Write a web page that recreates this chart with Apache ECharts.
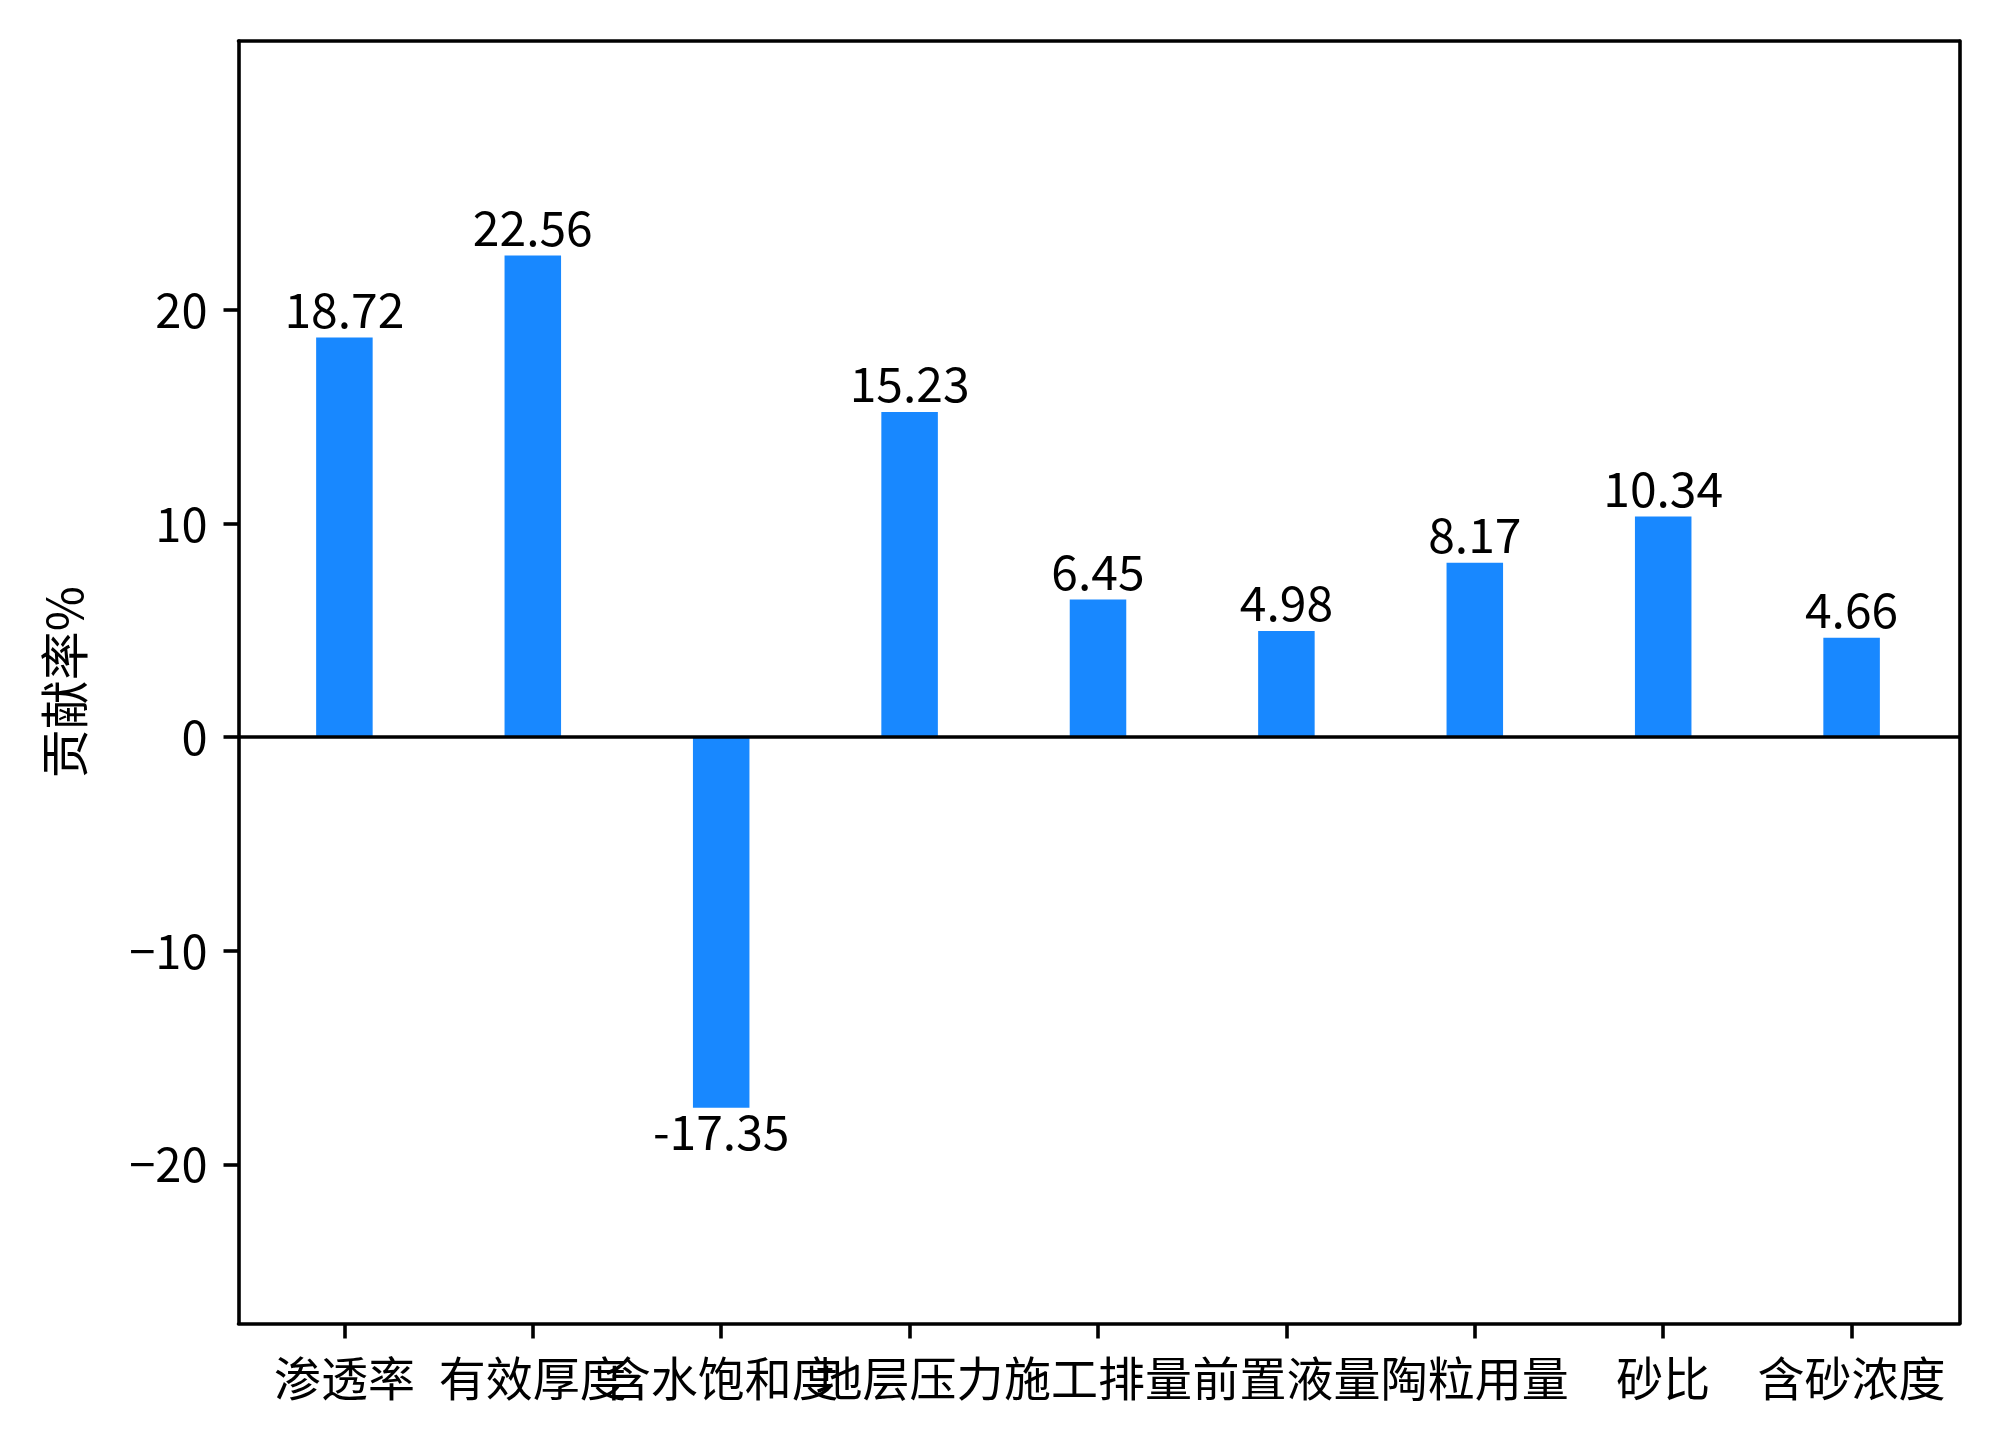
<!DOCTYPE html>
<html>
<head>
<meta charset="utf-8">
<script src="https://cdn.jsdelivr.net/npm/echarts@6/dist/echarts.min.js"></script>
<style>
html,body{margin:0;padding:0;background:#fff;}
#chart{width:2000px;height:1442px;}
</style>
</head>
<body>
<div id="chart"></div>
<script>
// ---- data ----
const categories = ['渗透率','有效厚度','含水饱和度','地层压力','施工排量','前置液量','陶粒用量','砂比','含砂浓度'];
const values = [18.72, 22.56, -17.35, 15.23, 6.45, 4.98, 8.17, 10.34, 4.66];
const yTicks = [-20, -10, 0, 10, 20];
const yMin = -27.45, yMax = 32.6;
const yName = '贡献率%';

// ---- layout ----
const FONT = '"Noto Sans CJK SC", "Noto Sans", sans-serif';
const FS = 47;
const frame = {left: 238.5, right: 2000 - 1959.5, top: 41, bottom: 1442 - 1323.5};
const band = 188.4;             // pixel width of one category unit
const firstCenter = 344.4;      // pixel x of first category center
const barsLeft = firstCenter - band / 2;
const barsRight = 2000 - (firstCenter + band * (categories.length - 1) + band / 2);
const lineW = 3.6;

const chart = echarts.init(document.getElementById('chart'), null, {renderer: 'canvas'});

const barData = values.map(v => ({
  value: v,
  label: {position: v < 0 ? 'bottom' : 'top', distance: v < 0 ? 0 : 4}
}));

const fmtY = v => (v < 0 ? '\u2212' + Math.abs(v) : String(v));

chart.setOption({
  backgroundColor: '#ffffff',
  animation: false,
  grid: [
    {left: frame.left, right: frame.right, top: frame.top, bottom: frame.bottom, containLabel: false},
    {left: barsLeft, right: barsRight, top: frame.top, bottom: frame.bottom, containLabel: false}
  ],
  xAxis: [
    {gridIndex: 0, type: 'value', min: 0, max: 1, position: 'bottom',
     axisLine: {show: true, onZero: false, lineStyle: {color: '#000', width: lineW}},
     axisTick: {show: false}, axisLabel: {show: false}, splitLine: {show: false}},
    {gridIndex: 0, type: 'value', min: 0, max: 1, position: 'top',
     axisLine: {show: true, onZero: false, lineStyle: {color: '#000', width: lineW}},
     axisTick: {show: false}, axisLabel: {show: false}, splitLine: {show: false}},
    {gridIndex: 1, type: 'category', data: categories, position: 'bottom',
     boundaryGap: true,
     axisLine: {show: false, onZero: false},
     axisTick: {show: true, alignWithLabel: true, length: 15, lineStyle: {color: '#000', width: lineW}},
     axisLabel: {interval: 0, margin: 31, color: '#000', fontSize: FS, fontFamily: FONT, hideOverlap: false},
     splitLine: {show: false}}
  ],
  yAxis: [
    {gridIndex: 0, type: 'value', min: yMin, max: yMax, position: 'left',
     name: yName, nameLocation: 'middle', nameGap: 150, nameRotate: 90,
     nameTextStyle: {color: '#000', fontSize: FS + 2, fontFamily: FONT},
     axisLine: {show: true, onZero: false, lineStyle: {color: '#000', width: lineW}},
     axisTick: {show: true, length: 15, customValues: yTicks, lineStyle: {color: '#000', width: lineW}},
     axisLabel: {show: true, customValues: yTicks, margin: 31, color: '#000', fontSize: FS, fontFamily: FONT, formatter: fmtY},
     splitLine: {show: false}},
    {gridIndex: 0, type: 'value', min: yMin, max: yMax, position: 'right',
     axisLine: {show: true, onZero: false, lineStyle: {color: '#000', width: lineW}},
     axisTick: {show: false}, axisLabel: {show: false}, splitLine: {show: false}},
    {gridIndex: 1, type: 'value', min: yMin, max: yMax,
     axisLine: {show: false, onZero: false}, axisTick: {show: false}, axisLabel: {show: false}, splitLine: {show: false}}
  ],
  series: [
    {
      type: 'bar', xAxisIndex: 2, yAxisIndex: 2,
      data: barData,
      barWidth: '30%',
      itemStyle: {color: '#1888FF'},
      label: {show: true, color: '#000', fontSize: FS + 1, fontFamily: FONT,
              formatter: p => p.value.toFixed(2)},
      z: 2
    },
    {
      type: 'line', xAxisIndex: 0, yAxisIndex: 0, data: [],
      markLine: {
        silent: true, symbol: ['none', 'none'], label: {show: false},
        lineStyle: {color: '#000', width: lineW, type: 'solid'},
        data: [{yAxis: 0}]
      },
      z: 5
    }
  ]
});
</script>
</body>
</html>
